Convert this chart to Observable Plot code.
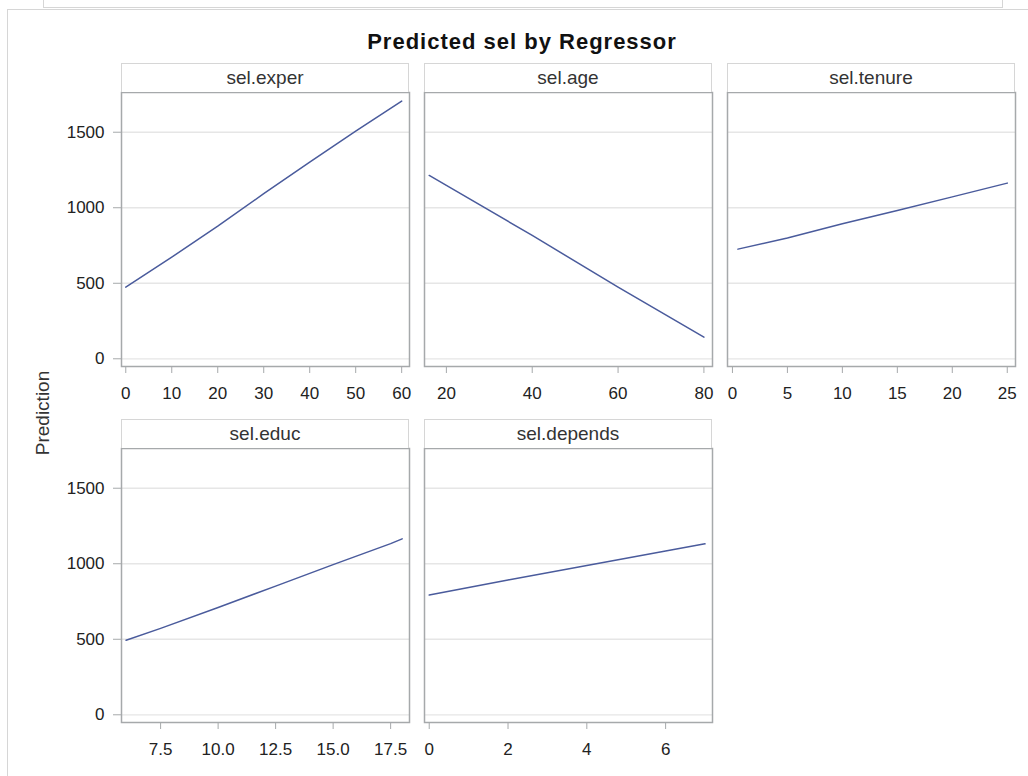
<!DOCTYPE html>
<html>
<head>
<meta charset="utf-8">
<script src="https://cdn.jsdelivr.net/npm/d3@7"></script>
<script src="https://cdn.jsdelivr.net/npm/@observablehq/plot@0.6"></script>
<style>
  body { margin: 0; background: #fff; font-family: "Liberation Sans", Arial, sans-serif; }
  #root { position: relative; width: 1028px; height: 776px; overflow: hidden; background: #fff; }
  .abs { position: absolute; }
  .hdr { position: absolute; box-sizing: border-box; border: 1px solid #d6d6d6; border-bottom: none;
         background: #fff; text-align: center; font-size: 19px; color: #333; white-space: nowrap; }
  .title { position: absolute; left: 0; width: 1044px; top: 29px; text-align: center;
           font-weight: bold; font-size: 22px; color: #111; letter-spacing: 1px; }
  .ylab { position: absolute; width: 200px; height: 22px; line-height: 22px; text-align: center;
          font-size: 19px; color: #333; transform: rotate(-90deg); }
</style>
</head>
<body>
<div id="root"></div>
<script>
// ---------------- data ----------------
const panelNames = ["sel.exper", "sel.age", "sel.tenure", "sel.educ", "sel.depends"];
const chartTitle = "Predicted sel by Regressor";
const yLabel = "Prediction";

const experX = [0, 10, 20, 30, 40, 50, 60];
const experY = [474, 673, 878, 1093, 1302, 1507, 1706];

const ageX = [16, 20, 40, 60, 80];
const ageY = [1214, 1148, 817, 474, 143];

const tenureX = [0.5, 5, 10, 15, 20, 25];
const tenureY = [726, 800, 894, 982, 1072, 1163];

const educX = [6, 7.5, 10, 12.5, 15, 17.5, 18];
const educY = [493, 572, 710, 852, 994, 1133, 1165];

const dependsX = [0, 2, 4, 6, 7];
const dependsY = [793, 893, 989, 1084, 1132];

const yTicks = [0, 500, 1000, 1500];
const experTicks = [0, 10, 20, 30, 40, 50, 60];
const ageTicks = [20, 40, 60, 80];
const tenureTicks = [0, 5, 10, 15, 20, 25];
const educTicks = [7.5, 10, 12.5, 15, 17.5];
const dependsTicks = [0, 2, 4, 6];

const yDomain = [-51, 1763];
const experDomain = [-0.93, 61.7];
const ageDomain = [14.9, 82.0];
const tenureDomain = [-0.45, 25.75];
const educDomain = [5.8, 18.32];
const dependsDomain = [-0.12, 7.19];

// ---------------- layout ----------------
const root = document.getElementById("root");
const FONT = '"Liberation Sans", Arial, sans-serif';
const colLeft = [121, 424, 727];
const rowTop = [92, 447.5];
const PW = 288, PH = 274, HDR = 29;

function addDiv(cls, style, text) {
  const d = document.createElement("div");
  d.className = cls;
  Object.assign(d.style, style);
  if (text != null) d.textContent = text;
  root.appendChild(d);
  return d;
}

// outer page borders
addDiv("abs", {left: "43px", top: "-4px", width: "960px", height: "12px",
  border: "1.5px solid #d6d6d6", borderTop: "none", boxSizing: "border-box"});
addDiv("abs", {left: "7px", top: "8.5px", width: "1100px", height: "800px",
  border: "1.5px solid #d6d6d6", boxSizing: "border-box"});

addDiv("title", {}, chartTitle);
addDiv("ylab", {left: (43 - 100) + "px", top: (413 - 11) + "px"}, yLabel);

const specs = [
  {name: panelNames[0], xs: experX, ys: experY, dom: experDomain, ticks: experTicks, fmt: d3.format("d"), col: 0, row: 0},
  {name: panelNames[1], xs: ageX, ys: ageY, dom: ageDomain, ticks: ageTicks, fmt: d3.format("d"), col: 1, row: 0},
  {name: panelNames[2], xs: tenureX, ys: tenureY, dom: tenureDomain, ticks: tenureTicks, fmt: d3.format("d"), col: 2, row: 0},
  {name: panelNames[3], xs: educX, ys: educY, dom: educDomain, ticks: educTicks, fmt: d3.format(".1f"), col: 0, row: 1},
  {name: panelNames[4], xs: dependsX, ys: dependsY, dom: dependsDomain, ticks: dependsTicks, fmt: d3.format("d"), col: 1, row: 1}
];

for (const s of specs) {
  const fl = colLeft[s.col], ft = rowTop[s.row];
  const mL = s.col === 0 ? 90 : 4, mR = 24, mT = 4, mB = 50;
  const data = s.xs.map((x, i) => ({x, y: s.ys[i]}));
  const marks = [
    Plot.ruleY(yTicks, {stroke: "#e6e6e6", strokeWidth: 1.3}),
    Plot.line(data, {x: "x", y: "y", stroke: "#4a5b9c", strokeWidth: 1.5}),
    Plot.frame({stroke: "#a6a9ab", strokeWidth: 1.5}),
    Plot.axisX({ticks: s.ticks, tickFormat: s.fmt, tickSize: 7, tickPadding: 13,
      stroke: "#a6a9ab", fill: "#222", fontSize: 17, label: null})
  ];
  if (s.col === 0) {
    marks.push(Plot.axisY({ticks: yTicks, tickFormat: d3.format("d"), tickSize: 8, tickPadding: 9,
      stroke: "#a6a9ab", fill: "#222", fontSize: 17, label: null}));
  }
  const svg = Plot.plot({
    width: mL + PW + mR, height: mT + PH + mB,
    marginLeft: mL, marginRight: mR, marginTop: mT, marginBottom: mB,
    style: {background: "transparent", overflow: "visible", fontFamily: FONT, color: "#222"},
    x: {domain: s.dom, label: null, axis: null},
    y: {domain: yDomain, label: null, axis: null},
    marks
  });
  svg.style.position = "absolute";
  svg.style.left = (fl - mL) + "px";
  svg.style.top = (ft - mT) + "px";
  svg.style.maxWidth = "none";
  root.appendChild(svg);
  addDiv("hdr", {left: fl + "px", top: (ft - HDR) + "px", width: PW + "px",
    height: HDR + "px", lineHeight: (HDR - 1) + "px"}, s.name);
}
</script>
</body>
</html>
